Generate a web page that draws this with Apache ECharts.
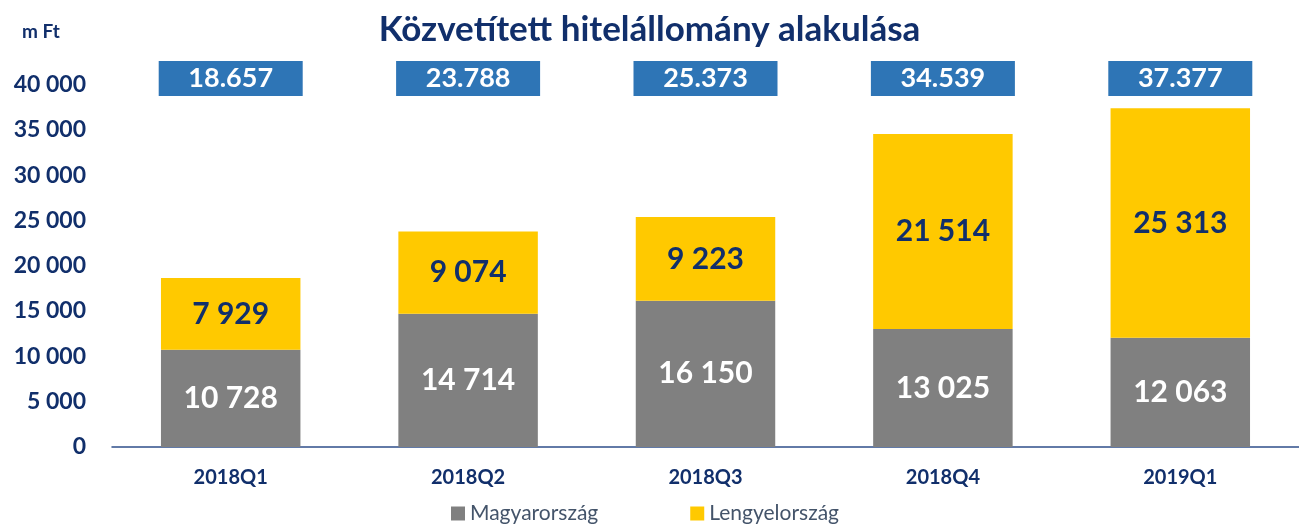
<!DOCTYPE html>
<html>
<head>
<meta charset="utf-8">
<script src="https://cdn.jsdelivr.net/npm/echarts@6/dist/echarts.min.js"></script>
<style>
  html, body { margin: 0; padding: 0; background: #fff; }
  #chart { width: 1299px; height: 529px; }
</style>
</head>
<body>
<div id="chart"></div>
<script>
const categories = ['2018Q1', '2018Q2', '2018Q3', '2018Q4', '2019Q1']
const magyarorszag = [10728, 14714, 16150, 13025, 12063]
const lengyelorszag = [7929, 9074, 9223, 21514, 25313]
const totals = [18657, 23788, 25373, 34539, 37377]

const navy = '#112F6B'
const fmtSpace = v => String(v).replace(/\B(?=(\d{3})+(?!\d))/g, ' ')
const fmtDot = v => String(v).replace(/\B(?=(\d{3})+(?!\d))/g, '.')

const chart = echarts.init(document.getElementById('chart'))
const option = {
  animation: false,
  textStyle: { fontFamily: 'Lato' },
  title: {
    text: 'Közvetített hitelállomány alakulása',
    left: 'center',
    top: 7,
    textStyle: { fontSize: 35, fontWeight: 'bold', color: navy, fontFamily: 'Lato' },
  },
  graphic: [{
    type: 'text',
    left: 22,
    top: 22,
    style: { text: 'm Ft', fontSize: 19, fontWeight: 'bold', fill: navy, fontFamily: 'Lato' },
  }],
  legend: {
    bottom: 0,
    left: 446,
    itemWidth: 14,
    itemHeight: 14,
    itemGap: 92,
    icon: 'rect',
    textStyle: { fontSize: 21, color: '#44546A', fontFamily: 'Lato' },
    data: ['Magyarország', 'Lengyelország'],
  },
  grid: { left: 112, right: -13, top: 84.5, bottom: 82 },
  xAxis: {
    type: 'category',
    data: categories,
    axisLine: { lineStyle: { color: '#2F4F8A', width: 1.5 } },
    axisTick: { length: 7, lineStyle: { color: '#2F4F8A', width: 1.5 } },
    axisLabel: { fontSize: 20, fontWeight: 'bold', color: navy, margin: 21 },
  },
  yAxis: {
    type: 'value',
    min: 0,
    max: 40000,
    interval: 5000,
    splitLine: { show: false },
    axisLine: { show: false },
    axisLabel: { fontSize: 23, fontWeight: 'bold', color: navy, margin: 26, formatter: fmtSpace },
  },
  series: [
    {
      name: 'Magyarország',
      type: 'bar',
      stack: 'total',
      barWidth: '58.75%',
      itemStyle: { color: '#808080' },
      label: { show: true, position: 'inside', fontSize: 30, fontWeight: 'bold', color: '#fff', formatter: p => fmtSpace(p.value) },
      data: magyarorszag,
    },
    {
      name: 'Lengyelország',
      type: 'bar',
      stack: 'total',
      itemStyle: { color: '#FFC900' },
      label: { show: true, position: 'inside', fontSize: 30, fontWeight: 'bold', color: navy, formatter: p => fmtSpace(p.value) },
      data: lengyelorszag,
    },
    {
      name: 'totals',
      type: 'scatter',
      symbolSize: 0,
      silent: true,
      clip: false,
      itemStyle: { opacity: 1 },
      data: totals.map(() => 40000),
      label: {
        show: true,
        position: 'inside',
        offset: [0, -6],
        opacity: 1,
        backgroundColor: '#2E75B6',
        color: '#fff',
        fontSize: 27,
        fontWeight: 'bold',
        width: 136,
        align: 'center',
        lineHeight: 31,
        padding: [2, 4],
        formatter: p => fmtDot(totals[p.dataIndex]),
      },
    },
  ],
}
chart.setOption(option)
</script>
</body>
</html>
